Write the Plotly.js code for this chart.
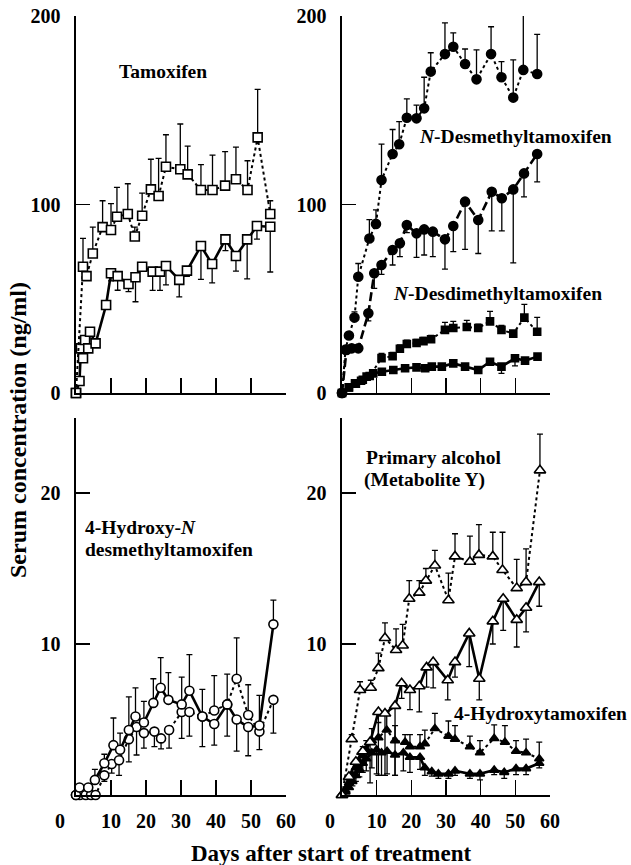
<!DOCTYPE html>
<html><head><meta charset="utf-8">
<script src="https://cdn.plot.ly/plotly-3.0.1.min.js"></script>
<style>html,body{margin:0;padding:0;background:#fff}#chart{width:631px;height:865px}</style>
</head><body><div id="chart"></div>
<script>
// ---- Tamoxifen (top left) ----
var tamDotX = [0, 2, 3, 4.8, 7.6, 10, 11.7, 14.8, 16.8, 18.9, 21.4, 23.6, 25.7, 29.8, 31.9, 35.7, 39, 42.6, 45.7, 49, 51.9, 55.5];
var tamDotY = [0, 67, 62, 74, 88, 86.5, 93.5, 95, 83, 94, 108, 104.5, 120, 118.7, 116, 107.7, 107.7, 110, 113.4, 107.7, 135.6, 95];
var tamDotUp = [0, 15, 0, 14, 14, 14, 15.6, 16, 5, 12, 16, 20, 17, 24, 15, 13.5, 18.5, 18, 17, 15.5, 25.5, 7];
var tamSolX = [0, 1, 1.4, 2, 2.6, 3.5, 4, 5.6, 8.6, 10, 11.9, 15, 17, 18.9, 21.9, 24, 25.7, 29.5, 31.7, 35.7, 38.9, 42.7, 45.7, 48.9, 51.7, 55.5];
var tamSolY = [0, 6.4, 23.7, 18.4, 28.1, 23.7, 32.5, 26.3, 46.7, 63.5, 62, 57.8, 61.4, 67, 64.4, 64.4, 67.4, 60, 64.9, 78, 68.4, 81.5, 72.7, 81.5, 88.6, 88.2];
var tamSolDn = [0, 0, 0, 0, 0, 0, 0, 0, 0, 4, 7.5, 4, 13, 0, 10, 10, 10, 9, 3, 17.7, 10, 6, 8, 21, 7, 24];

// ---- N-Desmethyl / N-Desdimethyl (top right) ----
var ndmDotX = [0, 1, 2, 3.6, 4.7, 7.9, 9.8, 11.4, 14.6, 16.5, 18.7, 21.5, 23.7, 25.6, 29.7, 32.1, 35.5, 38.8, 43, 46, 49.4, 52.3, 56.3];
var ndmDotY = [0, 23, 30.5, 40, 61.7, 82, 89.7, 113, 126.8, 132, 146, 145.7, 151, 170.5, 179.8, 183.7, 174.5, 166.4, 179.8, 167.5, 156.7, 171.4, 169.2];
var ndmDotUp = [0, 0, 0, 3, 7, 10, 7.4, 19, 13, 12, 10, 7, 16.5, 10, 16.6, 7.4, 8, 15.6, 14.5, 8.3, 20, 29, 21];
var ndmDashX = [0, 1.3, 2.8, 4.7, 7.6, 9.3, 11.4, 14.6, 16.7, 18.7, 21.5, 23.7, 26.2, 29.7, 32.1, 35.5, 39.3, 43.2, 46.1, 49.4, 52.5, 56.3];
var ndmDashY = [0, 22.8, 23.7, 23.7, 42.3, 63.5, 67.9, 75.9, 79.4, 89.1, 84.7, 86.8, 85.6, 81.5, 88.6, 101.5, 91.8, 106.8, 103.3, 108, 116.5, 126.8];
var ndmDashDn = [0, 0, 0, 0, 4, 8, 5, 8, 7, 4, 12.7, 13.6, 13.2, 15.8, 13.6, 25.3, 17.8, 20.8, 17.3, 39, 12.5, 14.8];
var nddUpX = [0, 2, 4, 6, 8, 11.4, 14.6, 16.7, 18.7, 21.5, 23.5, 25.7, 29.7, 32.1, 36, 39.3, 42.7, 46, 49.4, 52.6, 56.3];
var nddUpY = [0, 3, 5, 7, 9, 18.5, 19.5, 23.5, 26, 26.5, 27.5, 28.5, 33.5, 34.5, 35, 34.5, 38, 33.5, 31.5, 40, 32.5];
var nddUpErr = [0, 0, 0, 0, 0, 2.5, 2, 2, 2, 2, 2, 2, 4, 3.5, 3.5, 2, 5.3, 2.3, 1.5, 7, 7.6];
var nddLoX = [0, 2, 3.75, 5.5, 7.1, 9, 11.5, 14.8, 18.2, 21.5, 24, 25.9, 28.8, 32.1, 35.5, 39.3, 42.7, 46, 49.9, 52.8, 56.4];
var nddLoY = [0, 3, 5.1, 6.5, 8.7, 10.4, 11.3, 12.2, 13.1, 13.6, 13.1, 14, 14, 15.7, 14, 12.2, 16.6, 14, 18.4, 17.2, 19.3];
var nddLoErr = [0, 0, 0, 0, 0, 1.5, 1.5, 1.5, 1.5, 1, 1, 1, 1, 1, 1, 1.5, 1, 3.6, 4, 1, 1];

// ---- 4-Hydroxy-N-desmethyltamoxifen (bottom left) ----
var ohnSolX = [0, 1, 3.5, 5.4, 8.1, 10.7, 12.6, 15.1, 17, 19.4, 22.1, 24.2, 26.4, 30.2, 32.4, 36.1, 39.5, 43.2, 45.9, 49.2, 52.4, 56.4];
var ohnSolY = [0, 0.5, 0.5, 1.0, 2.1, 3.3, 3.0, 4.3, 5.2, 4.8, 6.1, 7.1, 6.3, 6.0, 6.9, 5.2, 4.7, 6.0, 5.0, 4.5, 4.6, 11.3];
var ohnSolUp = [0, 0, 0, 0.7, 0.6, 1.8, 1.1, 2.2, 1.9, 1.4, 1.6, 2.0, 1.8, 1.8, 2.4, 1.8, 0, 2.0, 0, 0, 2.0, 1.6];
var ohnSolDn = [0, 0, 0, 0, 0, 0, 0, 0, 0, 0, 0, 0, 0, 0, 0, 0, 1.4, 0, 2.1, 1.9, 0, 0];
var ohnDotX = [0, 1.1, 2.8, 4.3, 5.6, 8.1, 10.2, 12.3, 15.1, 17.3, 19.4, 22.4, 24.3, 26.6, 30.2, 32.4, 36.1, 39.5, 43.2, 45.9, 49.2, 52.4, 56.4];
var ohnDotY = [0, 0, 0, 0, 0, 1.3, 2.05, 2.3, 3.7, 4.5, 4.1, 4.2, 3.75, 4.3, 5.5, 5.5, 5.2, 5.6, 6.0, 7.7, 5.3, 4.2, 6.3];
var ohnDotUp = [0, 0, 0, 0, 0, 0, 0, 0, 0, 0, 0, 0, 0, 0, 0, 0, 0, 2.3, 0, 2.7, 2.0, 0, 0];
var ohnDotDn = [0, 0, 0, 0, 0, 0.4, 0.6, 1.0, 1.5, 1.85, 1.0, 1.0, 0.7, 1.2, 1.75, 1.6, 2.0, 0, 2.1, 0, 0, 1.2, 2.2];

// ---- Primary alcohol (Metabolite Y) & 4-Hydroxytamoxifen (bottom right) ----
var alcDotX = [0, 2.8, 5.2, 8.3, 10.5, 12.4, 15.6, 17.5, 19.4, 22.3, 24.2, 26.8, 30.7, 32.6, 36.9, 39.5, 43.5, 46.3, 50.4, 53.1, 57.1];
var alcDotY = [0, 3.7, 6.95, 7.1, 8.4, 10.4, 9.6, 9.9, 13.0, 13.4, 14.2, 15.2, 12.9, 15.8, 15.45, 15.9, 15.8, 14.9, 13.7, 14.1, 21.5];
var alcDotUp = [0, 0.3, 0.55, 0.5, 1.0, 1.0, 1.4, 1.4, 1.2, 0.8, 0.8, 1.0, 1.8, 1.5, 1.7, 2.0, 1.6, 2.5, 1.9, 2.2, 2.4];
var alcSolX = [0, 2, 4, 6, 8.1, 10.5, 12.4, 15.3, 17.2, 19.6, 22.3, 24.4, 26.3, 30.5, 32.6, 36.7, 39.6, 43.5, 46.5, 50.4, 53.1, 56.9];
var alcSolY = [0, 1.2, 2.2, 2.9, 3.5, 5.5, 5.4, 5.9, 7.4, 6.95, 7.2, 8.45, 8.8, 7.6, 8.8, 10.7, 7.7, 11.5, 13.0, 11.6, 12.4, 14.1];
var alcSolDn = [0, 0, 0, 0, 2.7, 4.2, 4.1, 4.6, 1.0, 1.3, 1.7, 1.3, 1.7, 1.3, 1.0, 2.2, 1.4, 1.5, 2.1, 1.8, 1.6, 1.6];
var ohtDotX = [0, 1, 2, 3, 4, 5, 6, 7, 8.6, 10.5, 12.9, 15.3, 18.2, 19.6, 22.5, 23.9, 26.8, 30.7, 32.6, 36.9, 39.8, 43.9, 47, 50.2, 53.1, 56.9];
var ohtDotY = [0, 0.3, 0.8, 1.3, 1.8, 2.2, 2.6, 3.0, 3.6, 3.8, 4.3, 3.6, 3.5, 3.2, 3.2, 3.4, 4.4, 3.9, 3.7, 3.2, 2.8, 3.75, 3.5, 2.9, 2.8, 2.4];
var ohtDotUp = [0, 0, 0, 0, 0.5, 0.5, 0.6, 0.6, 0.8, 1.0, 1.2, 1.0, 0.5, 0.8, 0.8, 0.9, 1.0, 1.0, 0.9, 0.7, 0.8, 0.9, 1.1, 0.7, 0.9, 1.1];
var ohtSolX = [0, 1, 2, 3, 4, 5, 6, 7, 8.6, 10, 11.4, 13, 15.3, 17.7, 19.6, 22.5, 23.9, 25.9, 27.8, 30.7, 32.6, 36.9, 39.8, 43.9, 46.8, 50.2, 53.1, 56.9];
var ohtSolY = [0, 0.2, 0.5, 0.9, 1.3, 1.7, 2.1, 2.4, 2.8, 3.0, 2.8, 2.9, 2.65, 2.8, 2.5, 2.5, 1.8, 1.55, 1.4, 1.4, 1.6, 1.4, 1.4, 1.65, 1.5, 1.75, 1.75, 2.1];
var ohtSolDn = [0, 0, 0, 0.3, 0.4, 0.5, 0.6, 0.8, 1.0, 1.6, 1.5, 1.5, 1.35, 1.2, 1.0, 0.8, 0.5, 0.3, 0.3, 0.3, 0.3, 0.3, 0.4, 0.3, 0.4, 0.4, 0.4, 0.3];

// tick labels
var topYTicks = [0, 100, 200];
var botYTicks = [10, 20];
var xTicks = [10, 20, 30, 40, 50, 60];

function zeros(n){ var a=[]; for(var i=0;i<n;i++) a.push(0); return a; }

function series(x, y, ax, lineStyle, sym, fill, up, dn, msize) {
  var n = x.length;
  var dash = lineStyle === 'dot' ? 'dot' : (lineStyle === 'dash' ? '9px,4px' : 'solid');
  var lw = lineStyle === 'dot' ? 2 : 2.6;
  return {
    type: 'scatter', mode: 'lines+markers', x: x, y: y,
    xaxis: 'x' + (ax === 1 ? '' : ax), yaxis: 'y' + (ax === 1 ? '' : ax),
    cliponaxis: false, hoverinfo: 'skip', showlegend: false,
    line: {color: '#000', width: lw, dash: dash},
    marker: {symbol: sym, size: msize || 9, color: fill, line: {color: '#000', width: 1.6}},
    error_y: {type: 'data', symmetric: false, array: up || zeros(n), arrayminus: dn || zeros(n),
              color: '#000', thickness: 1.3, width: 3}
  };
}

var data = [
  series(tamSolX, tamSolY, 1, 'solid', 'square', '#fff', null, tamSolDn, 9),
  series(tamDotX, tamDotY, 1, 'dot', 'square', '#fff', tamDotUp, null, 9),
  series(nddLoX, nddLoY, 2, 'solid', 'square', '#000', null, nddLoErr, 7),
  series(nddUpX, nddUpY, 2, 'dot', 'square', '#000', nddUpErr, null, 7),
  series(ndmDashX, ndmDashY, 2, 'dash', 'circle', '#000', null, ndmDashDn, 9),
  series(ndmDotX, ndmDotY, 2, 'dot', 'circle', '#000', ndmDotUp, null, 9),
  series(ohnDotX, ohnDotY, 3, 'dot', 'circle', '#fff', ohnDotUp, ohnDotDn, 9),
  series(ohnSolX, ohnSolY, 3, 'solid', 'circle', '#fff', ohnSolUp, ohnSolDn, 9),
  series(ohtSolX, ohtSolY, 4, 'solid', 'triangle-up', '#000', null, ohtSolDn, 8),
  series(ohtDotX, ohtDotY, 4, 'dot', 'triangle-up', '#000', ohtDotUp, null, 8),
  series(alcSolX, alcSolY, 4, 'solid', 'triangle-up', '#fff', null, alcSolDn, 10),
  series(alcDotX, alcDotY, 4, 'dot', 'triangle-up', '#fff', alcDotUp, null, 10)
];

var W = 631, H = 865;
function px(v){ return v / W; }
function py(v){ return 1 - v / H; }

var SERIF = 'Liberation Serif, Times New Roman, serif';
var tickFont = {family: SERIF, size: 20, color: '#000', weight: 'bold'};
function xax(dom, anchor, labels) {
  return {domain: dom, anchor: anchor, range: [0, 60], showgrid: false, zeroline: false,
    showline: true, linecolor: '#000', linewidth: 1.6, ticks: 'inside', ticklen: 15, tickwidth: 1.5,
    tickcolor: '#000', tickvals: xTicks, ticktext: xTicks.map(String), showticklabels: labels,
    tickfont: tickFont, ticklabelstandoff: 7, fixedrange: true};
}
function yax(dom, anchor, rng, tv) {
  return {domain: dom, anchor: anchor, range: rng, showgrid: false, zeroline: false,
    showline: true, linecolor: '#000', linewidth: 1.6, ticks: 'inside', ticklen: 14, tickwidth: 1.5,
    tickcolor: '#000', tickvals: tv, ticktext: tv.map(String), tickfont: tickFont,
    ticklabelstandoff: 10, fixedrange: true};
}

var xL = [px(76), px(286)], xR = [px(342), px(550)];
var yT = [py(393), py(16)], yB = [py(795), py(417.5)];

var labFont = {family: SERIF, size: 19.5, color: '#000', weight: 'bold'};
function ann(text, x, y, xanchor, font) {
  return {text: text, xref: 'paper', yref: 'paper', x: px(x), y: py(y), xanchor: xanchor || 'center',
    yanchor: 'middle', showarrow: false, align: 'left', font: font || labFont};
}

var layout = {
  width: W, height: H, margin: {l: 0, r: 0, t: 0, b: 0},
  paper_bgcolor: '#fff', plot_bgcolor: 'rgba(0,0,0,0)', showlegend: false,
  xaxis: xax(xL, 'y', false), yaxis: yax(yT, 'x', [0, 200], topYTicks),
  xaxis2: xax(xR, 'y2', false), yaxis2: yax(yT, 'x2', [0, 200], topYTicks),
  xaxis3: xax(xL, 'y3', true), yaxis3: yax(yB, 'x3', [0, 25], botYTicks),
  xaxis4: xax(xR, 'y4', true), yaxis4: yax(yB, 'x4', [0, 25], botYTicks),
  annotations: [
    ann('Tamoxifen', 163, 72),
    ann('<i>N</i>-Desmethyltamoxifen', 515, 137),
    ann('<i>N</i>-Desdimethyltamoxifen', 497, 293),
    ann('4-Hydroxy-<i>N</i>', 83, 527, 'left'),
    ann('desmethyltamoxifen', 83, 549, 'left'),
    ann('Primary alcohol', 364, 457, 'left'),
    ann('(Metabolite Y)', 362, 480, 'left'),
    ann('4-Hydroxytamoxifen', 452, 713, 'left'),
    ann('0', 60, 821, 'center', tickFont),
    ann('0', 330, 821, 'center', tickFont),
    ann('Days after start of treatment', 331, 853, 'center',
        {family: SERIF, size: 23, color: '#000', weight: 'bold'}),
    {text: 'Serum concentration (ng/ml)', xref: 'paper', yref: 'paper', x: px(18), y: py(430),
     xanchor: 'center', yanchor: 'middle', textangle: -90, showarrow: false,
     font: {family: SERIF, size: 24, color: '#000', weight: 'bold'}}
  ]
};

Plotly.newPlot('chart', data, layout, {staticPlot: true, displayModeBar: false});
</script>
</body></html>
